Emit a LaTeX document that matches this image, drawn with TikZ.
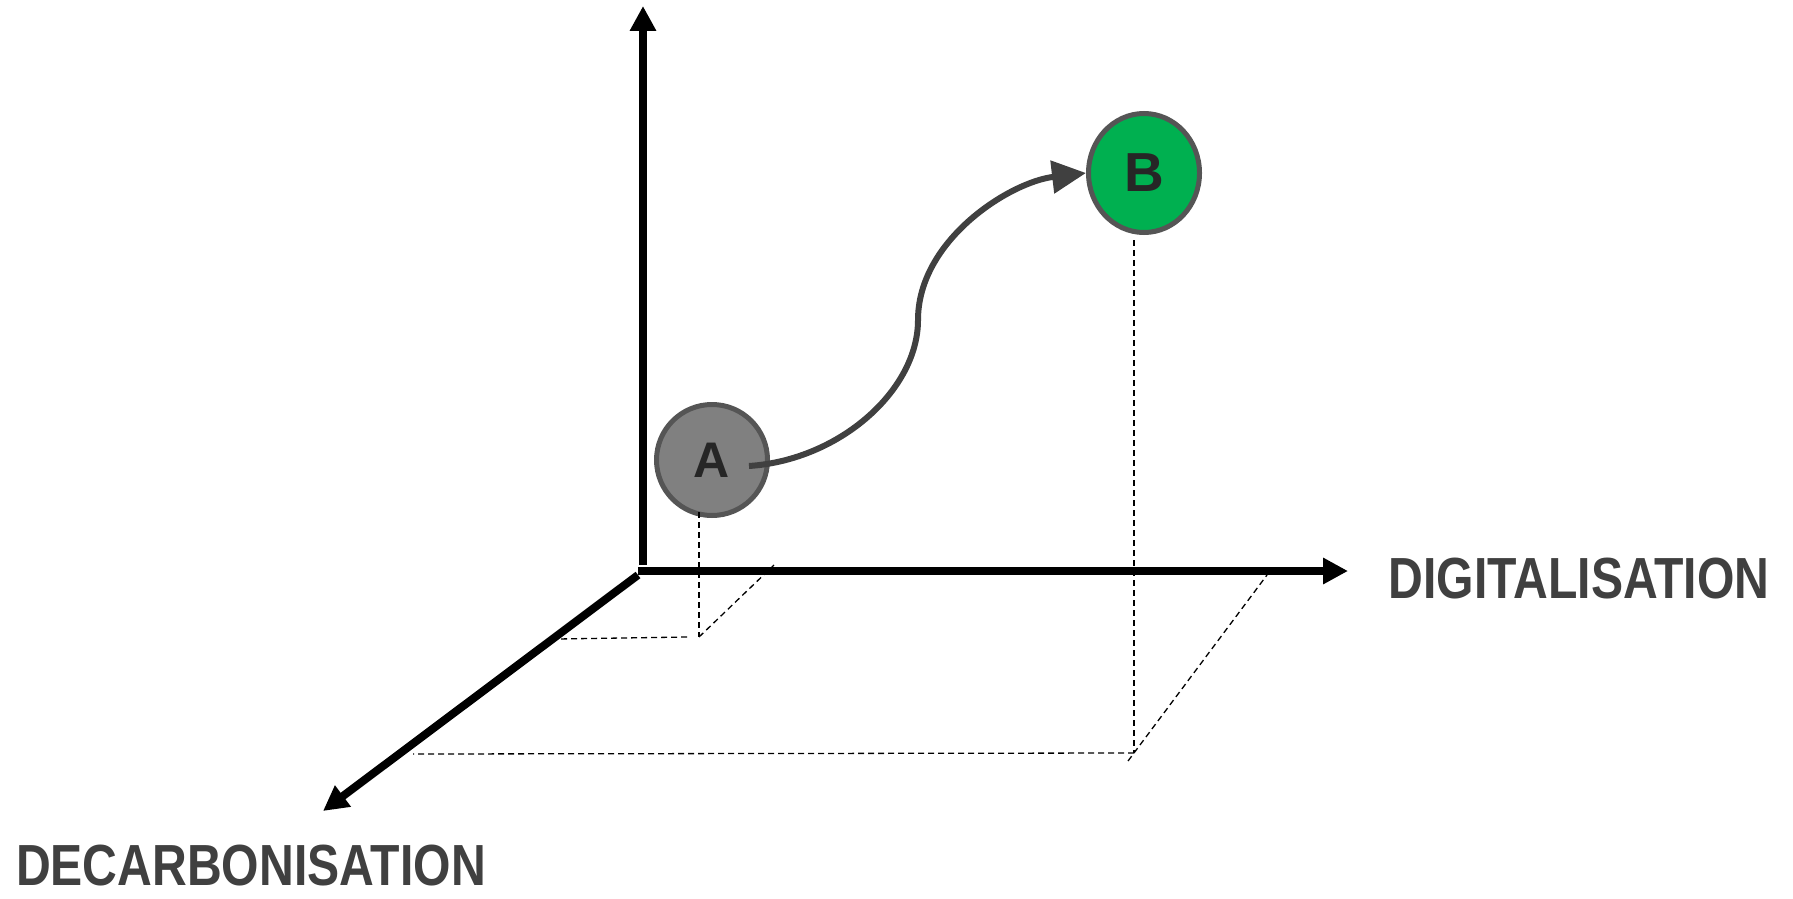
\documentclass[tikz,border=0pt]{standalone}
\usepackage{fontspec}
\setmainfont{Liberation Sans}
\usetikzlibrary{arrows.meta}
\usetikzlibrary{shapes.geometric}
\definecolor{labelgray}{HTML}{404040}
\definecolor{ringgray}{HTML}{555555}
\definecolor{pointA}{HTML}{808080}
\definecolor{pointB}{HTML}{00B050}

\begin{document}
\begin{tikzpicture}[x=1pt,y=-1pt,
  axis/.style={-{Triangle[length=25pt,width=25pt]},line width = 8pt},
  proj/.style={dash pattern=on 6pt off 4pt,line width = 1.3pt},
  point/.style={draw=ringgray,line width = 5pt,inner sep=0pt,text=black!85},
  axislabel/.style={text=labelgray,inner sep=0pt,font=\fontsize{58}{60}\selectfont\bfseries,xscale=0.83}]
\useasboundingbox (0,0) rectangle (1793,899);

% axes
\coordinate (up) at (643,6);
\coordinate (vbase) at (643,565);
\coordinate (hbase) at (638,571);
\coordinate (right) at (1348,571);
\coordinate (dbase) at (638,575);
\coordinate (front) at (323,811);
\draw[axis] (vbase) -- (up);
\draw[axis] (hbase) -- (right);
\draw[axis] (dbase) -- (front);

\node[axislabel] (dig) at (1579,579) {DIGITALISATION};
\node[axislabel] (dec) at (251,866) {DECARBONISATION};

% the two points
\node[point,circle,fill=pointA,minimum size=111pt,font=\fontsize{50}{52}\selectfont\bfseries] (A) at (712,460) {A};
\node[point,ellipse,fill=pointB,minimum width=111pt,minimum height=119pt,font=\fontsize{55}{57}\selectfont\bfseries] (B) at (1144,173) {B};

% projections onto the floor
\coordinate (a2) at (699,512);
\coordinate (A0) at (699,637);
\draw[proj] (a2) -- (A0);
\draw[proj] (A0) -- (774,565);
\draw[proj] (687,637) -- (557,639);

\coordinate (b2) at (1134,240);
\coordinate (B0) at (1134,753);
\draw[proj] (b2) -- (B0);
\draw[proj] (1128,761) -- (1267,575);
\draw[proj] (B0) -- (413,754);

% path from A to B
\coordinate (a1) at (749,466);
\draw[line width = 6pt,draw=labelgray,-{Triangle[length=34pt,width=32pt]}] (a1) .. controls (840,460) and (918,390) .. (918,320) .. controls (918,240) and (1010,182) .. (B.west);

\end{tikzpicture}
\end{document}
